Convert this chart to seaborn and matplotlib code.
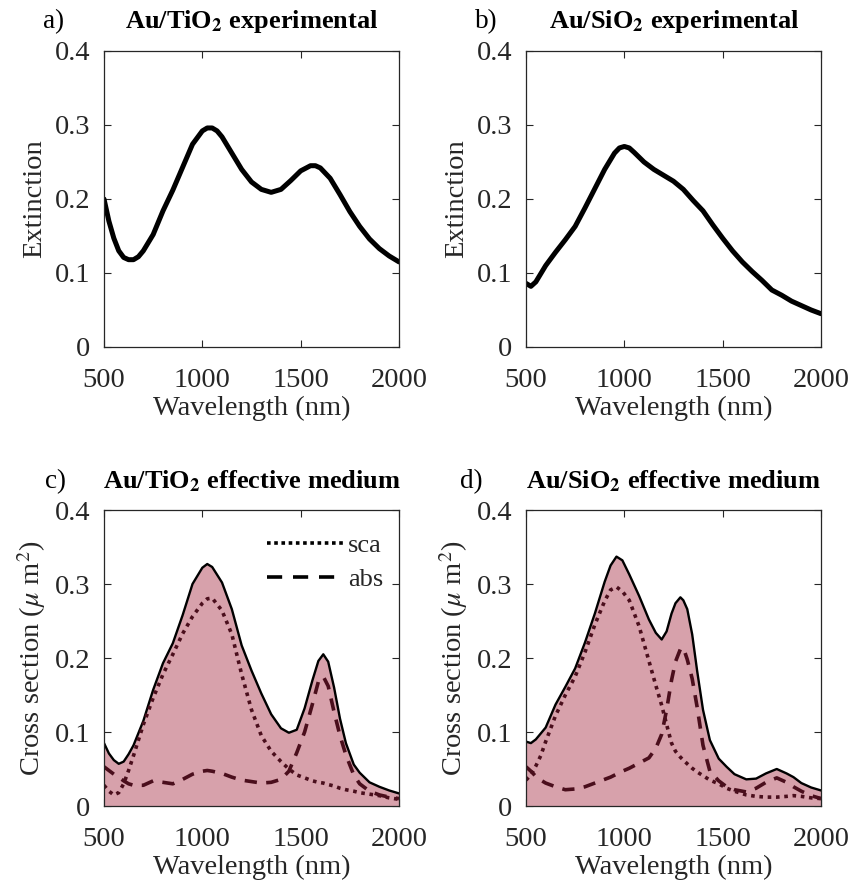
import numpy as np
import pandas as pd
import seaborn as sns
import matplotlib
matplotlib.use("Agg")
import matplotlib.pyplot as plt
from matplotlib.lines import Line2D

# ---------------- data ----------------
wl_a = [500, 525, 550, 575, 600, 625, 650, 675, 700, 750, 800, 850, 900, 950, 1000, 1025, 1050, 1075, 1100,
        1150, 1200, 1250, 1300, 1350, 1400, 1450, 1500, 1550, 1575, 1600, 1650, 1700, 1750, 1800, 1850,
        1900, 1950, 2000]
ext_a = [0.200, 0.170, 0.147, 0.130, 0.121, 0.118, 0.118, 0.122, 0.130, 0.152, 0.184, 0.212, 0.243, 0.274,
         0.292, 0.296, 0.296, 0.292, 0.284, 0.262, 0.240, 0.223, 0.213, 0.209, 0.213, 0.225, 0.238, 0.245,
         0.245, 0.242, 0.228, 0.206, 0.183, 0.163, 0.146, 0.133, 0.123, 0.115]

wl_b = [500, 525, 550, 600, 650, 700, 750, 800, 850, 900, 950, 975, 1000, 1025, 1050, 1100, 1150, 1200,
        1250, 1300, 1350, 1400, 1450, 1500, 1550, 1600, 1650, 1700, 1750, 1800, 1850, 1900, 1950, 2000]
ext_b = [0.086, 0.082, 0.088, 0.110, 0.128, 0.145, 0.163, 0.188, 0.214, 0.240, 0.262, 0.269, 0.271, 0.269,
         0.263, 0.250, 0.240, 0.232, 0.224, 0.213, 0.198, 0.184, 0.165, 0.147, 0.130, 0.115, 0.102, 0.090,
         0.077, 0.070, 0.062, 0.056, 0.050, 0.045]

wl_c = [500, 525, 550, 575, 600, 625, 650, 700, 750, 800, 850, 900, 950, 1000, 1025, 1050, 1100, 1150,
        1200, 1250, 1300, 1350, 1400, 1440, 1480, 1520, 1560, 1590, 1615, 1640, 1670, 1700, 1730, 1770,
        1800, 1850, 1900, 1950, 2000]
tot_c = [0.085, 0.071, 0.062, 0.057, 0.060, 0.070, 0.082, 0.115, 0.157, 0.193, 0.220, 0.258, 0.300, 0.322,
         0.327, 0.323, 0.302, 0.266, 0.217, 0.183, 0.152, 0.124, 0.105, 0.099, 0.103, 0.132, 0.170, 0.196,
         0.205, 0.195, 0.160, 0.118, 0.085, 0.056, 0.045, 0.032, 0.026, 0.021, 0.017]
sca_c = [0.028, 0.020, 0.015, 0.018, 0.030, 0.048, 0.068, 0.110, 0.146, 0.178, 0.205, 0.233, 0.256, 0.274,
         0.280, 0.281, 0.264, 0.232, 0.178, 0.130, 0.095, 0.074, 0.060, 0.050, 0.042, 0.038, 0.034, 0.032,
         0.031, 0.029, 0.027, 0.024, 0.022, 0.020, 0.018, 0.016, 0.014, 0.011, 0.009]
abs_c = [0.053, 0.048, 0.043, 0.039, 0.034, 0.030, 0.028, 0.028, 0.034, 0.032, 0.030, 0.036, 0.043, 0.047,
         0.048, 0.047, 0.044, 0.039, 0.035, 0.033, 0.031, 0.032, 0.036, 0.047, 0.072, 0.100, 0.138, 0.168,
         0.175, 0.162, 0.127, 0.095, 0.069, 0.042, 0.030, 0.020, 0.015, 0.012, 0.010]

wl_d = [500, 525, 550, 575, 600, 650, 700, 750, 800, 850, 900, 930, 960, 990, 1025, 1075, 1125, 1160,
        1190, 1215, 1240, 1260, 1285, 1300, 1320, 1345, 1370, 1400, 1435, 1480, 1520, 1560, 1620, 1670,
        1720, 1775, 1825, 1860, 1900, 1950, 2000]
tot_d = [0.087, 0.085, 0.090, 0.098, 0.106, 0.137, 0.161, 0.186, 0.221, 0.260, 0.303, 0.325, 0.337, 0.332,
         0.313, 0.284, 0.252, 0.234, 0.225, 0.236, 0.260, 0.274, 0.282, 0.278, 0.266, 0.232, 0.183, 0.130,
         0.089, 0.064, 0.053, 0.043, 0.036, 0.037, 0.044, 0.050, 0.044, 0.039, 0.031, 0.025, 0.021]
sca_d = [0.035, 0.042, 0.054, 0.068, 0.087, 0.122, 0.150, 0.175, 0.208, 0.245, 0.277, 0.292, 0.296, 0.290,
         0.278, 0.243, 0.196, 0.163, 0.136, 0.110, 0.085, 0.074, 0.066, 0.062, 0.057, 0.051, 0.046, 0.041,
         0.035, 0.030, 0.024, 0.020, 0.015, 0.013, 0.012, 0.012, 0.013, 0.014, 0.013, 0.011, 0.010]
abs_d = [0.053, 0.047, 0.040, 0.035, 0.031, 0.026, 0.022, 0.023, 0.026, 0.031, 0.036, 0.039, 0.043, 0.047,
         0.051, 0.058, 0.065, 0.078, 0.097, 0.130, 0.170, 0.195, 0.212, 0.214, 0.198, 0.172, 0.134, 0.082,
         0.047, 0.034, 0.026, 0.022, 0.019, 0.024, 0.032, 0.038, 0.032, 0.026, 0.020, 0.014, 0.010]

x_ticks = [500, 1000, 1500, 2000]
y_ticks = [0, 0.1, 0.2, 0.3, 0.4]
y_tick_labels = ["0", "0.1", "0.2", "0.3", "0.4"]
titles = [r"Au/TiO$_\mathbf{2}$ experimental", r"Au/SiO$_\mathbf{2}$ experimental",
          r"Au/TiO$_\mathbf{2}$ effective medium", r"Au/SiO$_\mathbf{2}$ effective medium"]
panel_labels = ["a)", "b)", "c)", "d)"]
legend_labels = ["sca", "abs"]

# ---------------- style ----------------
sns.set_style("ticks")
plt.rcParams["font.family"] = ["Liberation Serif", "DejaVu Serif"]
plt.rcParams["mathtext.fontset"] = "stix"
TXT = "#262626"
FILL = "#D7A1AB"
DARK = "#4A0E1C"

fig = plt.figure(figsize=(8.55, 8.93), dpi=100)
W, H = 855, 893
boxes = [(104, 51), (526, 51), (104, 510), (526, 510)]
axes = []
for (x0, y0) in boxes:
    ax = fig.add_axes([x0 / W, 1 - (y0 + 296) / H, 295 / W, 296 / H])
    axes.append(ax)


def style(ax, ylabel):
    ax.set_xlim(500, 2000)
    ax.set_ylim(0, 0.4)
    ax.set_xticks(x_ticks)
    ax.set_yticks(y_ticks)
    ax.set_yticklabels(y_tick_labels)
    ax.tick_params(direction="in", top=True, right=True, labelsize=20.5, colors=TXT,
                   length=5, width=0.8)
    ax.tick_params(axis="x", pad=15)
    ax.tick_params(axis="y", pad=10)
    for s in ax.spines.values():
        s.set_color(TXT)
        s.set_linewidth(0.9)
    ax.set_xlabel("Wavelength (nm)", fontsize=20.5, color=TXT, labelpad=2)
    ax.set_ylabel(ylabel, fontsize=20.5, color=TXT, labelpad=5)


# panels a, b
for ax, wl, ext in [(axes[0], wl_a, ext_a), (axes[1], wl_b, ext_b)]:
    sns.lineplot(x=wl, y=ext, ax=ax, color="black", lw=3.6, sort=False, estimator=None)
    style(ax, "Extinction")

# panels c, d
for i, (ax, wl, tot, sca, ab) in enumerate([(axes[2], wl_c, tot_c, sca_c, abs_c),
                                             (axes[3], wl_d, tot_d, sca_d, abs_d)]):
    ax.fill_between(wl, tot, 0, color=FILL, lw=0)
    sns.lineplot(x=wl, y=tot, ax=ax, color="black", lw=1.7, sort=False, estimator=None)
    sns.lineplot(x=wl, y=sca, ax=ax, color=DARK, lw=2.6, sort=False, estimator=None,
                 linestyle=(0, (1, 1.3)))
    sns.lineplot(x=wl, y=ab, ax=ax, color=DARK, lw=2.6, sort=False, estimator=None,
                 linestyle=(0, (3.4, 2.6)))
    style(ax, r"Cross section ($\mu$ m$^2$)")
    if i == 0:
        h = [Line2D([], [], color="black", lw=2.6, linestyle=(0, (1, 1.0))),
             Line2D([], [], color="black", lw=2.6, linestyle=(0, (4.2, 3.0)))]
        ax.legend(h, legend_labels, loc="upper right", bbox_to_anchor=(1.0, 0.973),
                  frameon=False, fontsize=19,
                  handlelength=2.9, handletextpad=0.15, labelspacing=0.4,
                  borderaxespad=0.2, labelcolor=TXT)

# titles and panel labels
title_y = [28, 28, 488, 488]
label_x = [43, 475, 45, 460]
for ax, t, lab, ty, lx, (x0, y0) in zip(axes, titles, panel_labels, title_y, label_x, boxes):
    fig.text((x0 + 148) / W, 1 - ty / H, t, ha="center", va="baseline", fontsize=19,
             fontweight="bold", color="black")
    fig.text(lx / W, 1 - ty / H, lab, ha="left", va="baseline", fontsize=19.5, color="black")

fig.savefig("out.png", dpi=100)
